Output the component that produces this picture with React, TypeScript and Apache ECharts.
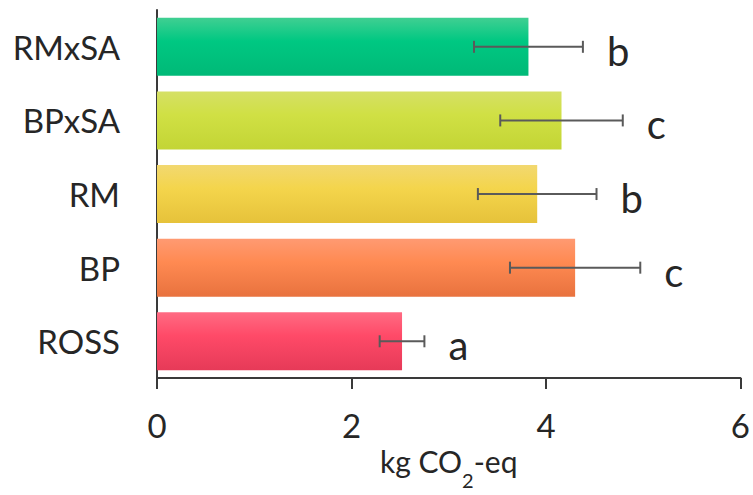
import React, { useEffect, useRef } from "react";
import * as echarts from "echarts";

// Categories from bottom to top of the value axis
const categories = ["ROSS", "BP", "RM", "BPxSA", "RMxSA"];
// Mean emissions (kg CO2-eq)
const means = [2.52, 4.3, 3.91, 4.16, 3.82];
// Error bar half-widths
const errors = [0.23, 0.67, 0.61, 0.63, 0.56];
// Significance letters
const letters = ["a", "c", "b", "c", "b"];
// Axis ticks
const xTicks = [0, 2, 4, 6];

// Gradient palette per bar: [top, middle, bottom]
const palette = [
  ["#ff6b83", "#ff4a68", "#e63a58"],
  ["#ff9a72", "#ff8a52", "#e8723e"],
  ["#f2d870", "#f4d54c", "#e6c23a"],
  ["#d5e066", "#d0e044", "#c3d535"],
  ["#40cf92", "#00c882", "#00b977"],
];

const FONT = "Lato, 'Open Sans', sans-serif";
const AXIS_COLOR = "#3a3a3a";
const TEXT_COLOR = "#262626";

export default function App() {
  const ref = useRef<HTMLDivElement>(null);

  useEffect(() => {
    document.body.style.margin = "0";
    if (!ref.current) return;
    const chart = echarts.init(ref.current, undefined, { renderer: "svg" });

    const barData = means.map((v, i) => ({
      value: v,
      itemStyle: {
        color: new echarts.graphic.LinearGradient(0, 0, 0, 1, [
          { offset: 0, color: palette[i][0] },
          { offset: 0.4, color: palette[i][1] },
          { offset: 1, color: palette[i][2] },
        ]),
      },
    }));

    const errData = means.map((v, i) => [v - errors[i], v + errors[i], i]);

    chart.setOption({
      animation: false,
      grid: { left: 157, right: 11.3, top: 10, bottom: 105, containLabel: false },
      xAxis: {
        type: "value",
        min: xTicks[0],
        max: xTicks[xTicks.length - 1],
        interval: 2,
        splitLine: { show: false },
        axisLine: { show: true, lineStyle: { color: AXIS_COLOR, width: 2 } },
        axisTick: { show: true, length: 11, lineStyle: { color: AXIS_COLOR, width: 2 } },
        axisLabel: { fontSize: 33, fontFamily: FONT, color: TEXT_COLOR, margin: 30 },
        name: "{t|kg CO}{s|2}{t|-eq}",
        nameLocation: "middle",
        nameGap: 62,
        nameTextStyle: {
          rich: {
            t: { fontSize: 30, fontFamily: FONT, color: TEXT_COLOR, lineHeight: 30, verticalAlign: "top" },
            s: { fontSize: 20, fontFamily: FONT, color: TEXT_COLOR, lineHeight: 20, verticalAlign: "top", padding: [24, 0, 0, 0] },
          },
        },
      },
      yAxis: {
        type: "category",
        data: categories,
        axisLine: { show: true, lineStyle: { color: AXIS_COLOR, width: 2 } },
        axisTick: { show: false },
        axisLabel: { fontSize: 33, fontFamily: FONT, color: TEXT_COLOR, margin: 37 },
      },
      series: [
        {
          type: "bar",
          data: barData,
          barWidth: 58,
          z: 2,
        },
        {
          type: "custom",
          z: 3,
          encode: { x: [0, 1], y: 2 },
          data: errData,
          renderItem: (params: any, api: any) => {
            const idx = api.value(2);
            const lo = api.coord([api.value(0), idx]);
            const hi = api.coord([api.value(1), idx]);
            const cap = 6;
            const stroke = { stroke: "#5a5a5a", lineWidth: 2 };
            return {
              type: "group",
              children: [
                { type: "line", shape: { x1: lo[0], y1: lo[1], x2: hi[0], y2: hi[1] }, style: stroke },
                { type: "line", shape: { x1: lo[0], y1: lo[1] - cap, x2: lo[0], y2: lo[1] + cap }, style: stroke },
                { type: "line", shape: { x1: hi[0], y1: hi[1] - cap, x2: hi[0], y2: hi[1] + cap }, style: stroke },
                {
                  type: "text",
                  x: hi[0] + 24,
                  y: hi[1] + 4,
                  style: {
                    text: letters[params.dataIndex],
                    font: `40px ${FONT}`,
                    fill: TEXT_COLOR,
                    align: "left",
                    verticalAlign: "middle",
                  },
                },
              ],
            };
          },
        },
      ],
    });

    return () => chart.dispose();
  }, []);

  return <div ref={ref} style={{ width: 753, height: 495 }} />;
}
